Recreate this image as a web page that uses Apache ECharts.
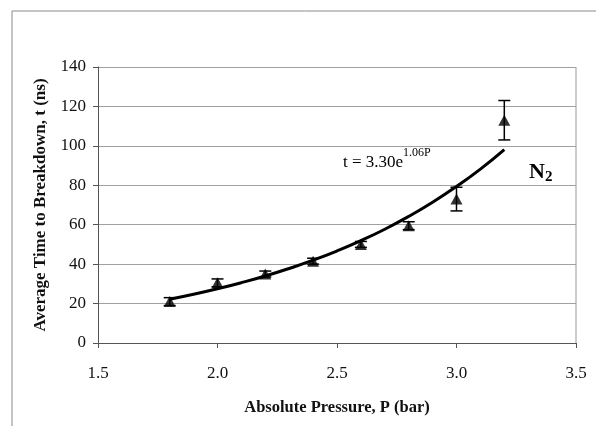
<!DOCTYPE html>
<html>
<head>
<meta charset="utf-8">
<script src="https://cdn.jsdelivr.net/npm/echarts@6/dist/echarts.min.js"></script>
<style>
  html, body { margin: 0; padding: 0; background: #fff; }
  #main { width: 596px; height: 426px; }
</style>
</head>
<body>
<div id="main"></div>
<script>
// measured points (pressure, mean time, error half-width)
var pressure = [1.8, 2.0, 2.2, 2.4, 2.6, 2.8, 3.0, 3.2];
var meanTime = [21, 30.5, 35, 41.5, 50, 59.5, 73, 113];
var errTime = [2, 2, 1.5, 1.5, 1.5, 2, 6, 10];

// trend line t = 3.30e^(1.06P)
var fitP = [1.8, 1.9, 2.0, 2.1, 2.2, 2.3, 2.4, 2.5, 2.6, 2.7, 2.8, 2.9, 3.0, 3.1, 3.2];
var fitT = [22.2, 24.7, 27.5, 30.6, 34.0, 37.8, 42.0, 46.7, 51.9, 57.7, 64.2, 71.4, 79.4, 88.2, 98.1];

var myChart = echarts.init(document.getElementById("main"));

var font = "'Liberation Serif', 'Times New Roman', serif";

var option = {
  animation: false,
  backgroundColor: "#fff",
  grid: { left: 98, right: 20, top: 67, bottom: 83 },
  xAxis: {
    type: "value",
    min: 1.5,
    max: 3.5,
    interval: 0.5,
    name: "Absolute Pressure, P (bar)",
    nameLocation: "middle",
    nameGap: 56,
    nameTextStyle: { fontFamily: font, fontSize: 16.5, fontWeight: "bold", color: "#111" },
    axisLine: { lineStyle: { color: "#555", width: 1 } },
    axisTick: { show: true, length: 5, lineStyle: { color: "#555" } },
    axisLabel: {
      fontFamily: font, fontSize: 17, color: "#111", margin: 22,
      formatter: function (v) { return v.toFixed(1); }
    },
    splitLine: { show: false }
  },
  yAxis: {
    type: "value",
    min: 0,
    max: 140,
    interval: 20,
    name: "Average Time to Breakdown, t (ns)",
    nameLocation: "middle",
    nameGap: 47,
    nameTextStyle: { fontFamily: font, fontSize: 17, fontWeight: "bold", color: "#111" },
    axisLine: { show: true, lineStyle: { color: "#555", width: 1 } },
    axisTick: { show: true, length: 5, lineStyle: { color: "#555" } },
    axisLabel: { fontFamily: font, fontSize: 17, color: "#111", margin: 12 },
    splitLine: { show: true, lineStyle: { color: "#a0a0a0", width: 1 } }
  },
  graphic: [
    {
      type: "rect",
      shape: { x: 12, y: 11, width: 600, height: 430 },
      style: { fill: "none", stroke: "#8a8a8a", lineWidth: 1 },
      silent: true
    },
    {
      type: "line",
      shape: { x1: 576, y1: 67, x2: 576, y2: 343 },
      style: { stroke: "#999", lineWidth: 1 },
      silent: true
    },
    {
      type: "text",
      left: 343,
      top: 147,
      style: {
        text: "{m|t = 3.30e}{s|1.06P}",
        rich: {
          m: { fontFamily: font, fontSize: 17, color: "#111", verticalAlign: "bottom", lineHeight: 24 },
          s: { fontFamily: font, fontSize: 12, color: "#111", verticalAlign: "top", lineHeight: 24, padding: [0, 0, 10, 0] }
        }
      }
    },
    {
      type: "text",
      left: 529,
      top: 160,
      style: {
        text: "{m|N}{s|2}",
        rich: {
          m: { fontFamily: font, fontSize: 22, fontWeight: "bold", color: "#111", lineHeight: 26 },
          s: { fontFamily: font, fontSize: 15, fontWeight: "bold", color: "#111", lineHeight: 26, padding: [10, 0, 0, 0] }
        }
      }
    }
  ],
  series: [
    {
      type: "line",
      smooth: true,
      showSymbol: false,
      data: fitP.map(function (p, i) { return [p, fitT[i]]; }),
      lineStyle: { color: "#000", width: 3 },
      z: 3
    },
    {
      type: "custom",
      data: pressure.map(function (p, i) { return [p, meanTime[i] - errTime[i], meanTime[i] + errTime[i]]; }),
      renderItem: function (params, api) {
        var lo = api.coord([api.value(0), api.value(1)]);
        var hi = api.coord([api.value(0), api.value(2)]);
        var w = 6;
        var st = { stroke: "#000", lineWidth: 1.5 };
        return {
          type: "group",
          children: [
            { type: "line", shape: { x1: lo[0], y1: lo[1], x2: hi[0], y2: hi[1] }, style: st },
            { type: "line", shape: { x1: lo[0] - w, y1: lo[1], x2: lo[0] + w, y2: lo[1] }, style: st },
            { type: "line", shape: { x1: hi[0] - w, y1: hi[1], x2: hi[0] + w, y2: hi[1] }, style: st }
          ]
        };
      },
      z: 4
    },
    {
      type: "scatter",
      symbol: "triangle",
      symbolSize: [12, 11],
      data: pressure.map(function (p, i) { return [p, meanTime[i]]; }),
      itemStyle: { color: "#000" },
      z: 5
    }
  ]
};

myChart.setOption(option);
</script>
</body>
</html>
